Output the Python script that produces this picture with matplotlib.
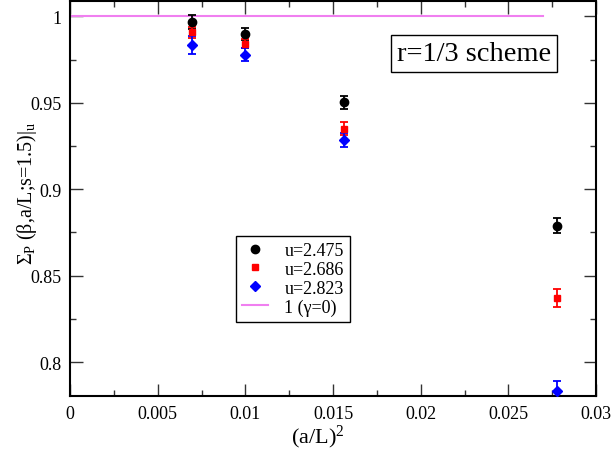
import matplotlib
matplotlib.use("Agg")
import matplotlib.pyplot as plt
from matplotlib.ticker import MultipleLocator, FormatStrFormatter
from matplotlib.lines import Line2D

# ---- data ----
x_vals = [0.006944, 0.01, 0.015625, 0.027778]   # (a/L)^2 for L = 12, 10, 8, 6
labels = ["u=2.475", "u=2.686", "u=2.823"]
y_2475 = [0.9965, 0.9898, 0.9503, 0.8790]
e_2475 = [0.0040, 0.0033, 0.0038, 0.0045]
y_2686 = [0.9907, 0.9840, 0.9349, 0.8372]
e_2686 = [0.0030, 0.0026, 0.0038, 0.0054]
y_2823 = [0.9834, 0.9778, 0.9285, 0.7836]
e_2823 = [0.0050, 0.0038, 0.0038, 0.0058]
ref_x = [0.0, 0.027]
ref_y = [1.0, 1.0]
ref_label = "1 (\u03b3=0)"

plt.rcParams["font.family"] = ["Liberation Serif", "DejaVu Serif"]
plt.rcParams["mathtext.fontset"] = "custom"
plt.rcParams["mathtext.rm"] = "Liberation Serif"
plt.rcParams["mathtext.it"] = "Liberation Serif:italic"
plt.rcParams["mathtext.bf"] = "Liberation Serif:bold"

fig = plt.figure(figsize=(6.13, 4.60), dpi=100)
ax = fig.add_axes([0.1142, 0.1363, 0.8581, 0.8600])

series = [
    (y_2475, e_2475, "black", "o", 6.0),
    (y_2686, e_2686, "red", "s", 5.0),
    (y_2823, e_2823, "blue", "D", 5.0),
]
for (yv, ev, col, mk, ms), lab in zip(series, labels):
    ax.errorbar(x_vals, yv, yerr=ev, fmt=mk, color=col, ms=ms, mec=col,
                capsize=3.0, elinewidth=1.3, capthick=1.3, label=lab, zorder=3)

ax.plot(ref_x, ref_y, color="#f07ff0", lw=1.5, label=ref_label, zorder=2)

ax.set_xlim(0, 0.03)
ax.set_ylim(0.7803, 1.009)

ax.xaxis.set_major_locator(MultipleLocator(0.005))
ax.xaxis.set_minor_locator(MultipleLocator(0.0025))
ax.yaxis.set_major_locator(MultipleLocator(0.05))
ax.yaxis.set_minor_locator(MultipleLocator(0.025))
ax.xaxis.set_major_formatter(FormatStrFormatter("%g"))
ax.yaxis.set_major_formatter(FormatStrFormatter("%g"))

ax.tick_params(which="both", direction="in", top=True, right=True,
               labelsize=13, color="#333333")
ax.tick_params(which="major", length=9, width=1.0, pad=6)
ax.tick_params(which="minor", length=4.5, width=1.0)
for s in ax.spines.values():
    s.set_linewidth(1.5)

ax.set_xlabel("(a/L)$^{2}$", fontsize=16)
ax.xaxis.set_label_coords(0.4715, -0.068)
ax.set_ylabel("\u03a3$_{\\mathrm{P}}$ (\u03b2,a/L;s=1.5)|$_{\\mathrm{u}}$",
              fontsize=14.5)
ax.yaxis.set_label_coords(-0.058, 0.516)

h2 = []
for (yv, ev, col, mk, ms) in series:
    h2.append(Line2D([], [], ls="none", marker=mk, color=col, ms=ms))
h2.append(Line2D([], [], color="#f07ff0", lw=1.5))
leg = ax.legend(h2, labels + [ref_label], loc="upper left",
                bbox_to_anchor=(0.315, 0.406), fontsize=13, frameon=True,
                fancybox=False, framealpha=1, edgecolor="black",
                handlelength=1.45, handletextpad=0.9, borderpad=0.35,
                labelspacing=0.1, borderaxespad=0)
leg.get_frame().set_linewidth(1.0)

ax.text(0.768, 0.866, "r=1/3 scheme", transform=ax.transAxes, fontsize=20.5,
        ha="center", va="center",
        bbox=dict(boxstyle="square,pad=0.22", fc="white", ec="black", lw=1.0))

fig.savefig("out.png", dpi=100)
